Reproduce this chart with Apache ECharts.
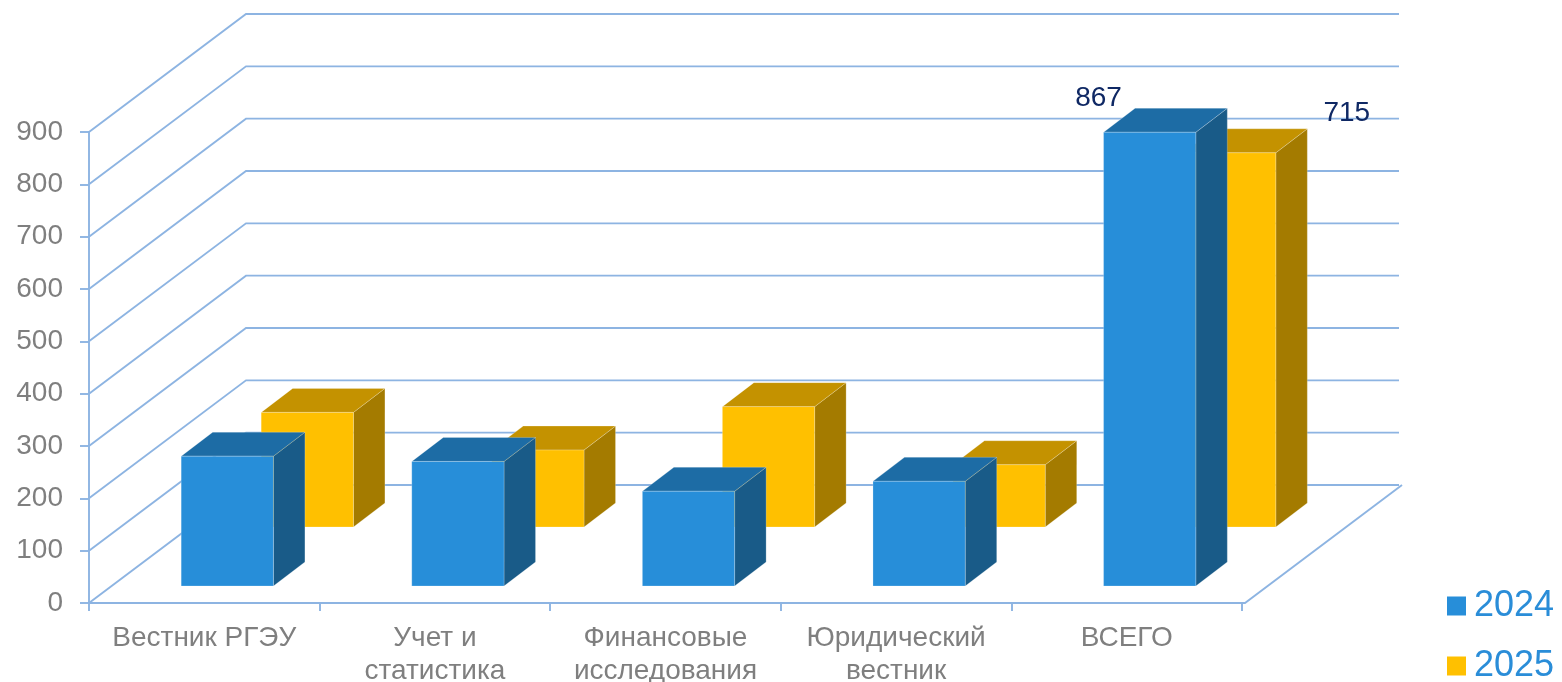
<!DOCTYPE html>
<html>
<head>
<meta charset="utf-8">
<script src="https://cdn.jsdelivr.net/npm/echarts@6/dist/echarts.min.js"></script>
<style>
  html, body { margin: 0; padding: 0; background: #ffffff; overflow: hidden; }
  #chart { width: 1562px; height: 682px; }
</style>
</head>
<body>
<div id="chart"></div>
<script>
// ---- data ----
const categories = ['Вестник РГЭУ', 'Учет и\nстатистика', 'Финансовые\nисследования', 'Юридический\nвестник', 'ВСЕГО'];
const values2024 = [248, 238, 181, 200, 867];
const values2025 = [219, 147, 230, 119, 715];
const seriesNames = ['2024', '2025'];
const yTicks = [0, 100, 200, 300, 400, 500, 600, 700, 800, 900];
const labelledCategories = ['ВСЕГО'];

// ---- styles ----
const GRID_LINE = '#8DB4E2';
const LINE_W = 1.9;
const WALL_DEPTH = [157, -118];      // oblique depth of the back wall
const BAR_DEPTH = [31.5, -24];       // thickness of each bar
const BAR_RATIO = 0.4;
const FONT = '"Liberation Sans", Arial, sans-serif';
const LABEL_COLOR = '#0F2864';
const LEGEND_TEXT = '#2A8DD8';

const styles2024 = { offset: [23, -17], front: '#278ED9', top: '#1D6CA5', side: '#195B88', labelOff: [-5, -34], labelFrom: 'left' };
const styles2025 = { offset: [103, -76], front: '#FFC000', top: '#C49200', side: '#A47B00', labelOff: [71, -40], labelFrom: 'right' };

function barRenderer(st) {
  return function (params, api) {
    const idx = api.value(0);
    const v = api.value(1);
    const top = api.coord([idx, v]);
    const base = api.coord([idx, 0]);
    const band = api.size([1, 0])[0];
    const w = band * BAR_RATIO;
    const x0 = top[0] - w / 2 + st.offset[0];
    const x1 = x0 + w;
    const yT = top[1] + st.offset[1];
    const yB = base[1] + st.offset[1];
    const dx = BAR_DEPTH[0], dy = BAR_DEPTH[1];
    const edge = 'rgba(255,255,255,0.22)';
    const children = [
      { type: 'polygon', shape: { points: [[x1, yT], [x1 + dx, yT + dy], [x1 + dx, yB + dy], [x1, yB]] },
        style: { fill: st.side, stroke: edge, lineWidth: 1 } },
      { type: 'polygon', shape: { points: [[x0, yT], [x1, yT], [x1 + dx, yT + dy], [x0 + dx, yT + dy]] },
        style: { fill: st.top, stroke: edge, lineWidth: 1 } },
      { type: 'rect', shape: { x: x0, y: yT, width: w, height: yB - yT },
        style: { fill: st.front, stroke: edge, lineWidth: 1 } }
    ];
    if (labelledCategories.indexOf(categories[idx]) >= 0) {
      const lx = (st.labelFrom === 'left' ? x0 : x1) + st.labelOff[0];
      children.push({
        type: 'text',
        style: { x: lx, y: yT + st.labelOff[1], text: String(v), fill: LABEL_COLOR,
                 font: '28px ' + FONT, align: 'center', verticalAlign: 'middle' }
      });
    }
    return { type: 'group', children: children };
  };
}

function wallRenderer(params, api) {
  const v = api.value(1);
  const cs = params.coordSys;
  const y = api.coord([0, v])[1];
  const L = cs.x, R = cs.x + cs.width;
  const dx = WALL_DEPTH[0], dy = WALL_DEPTH[1];
  const children = [{
    type: 'polyline',
    shape: { points: [[L, y], [L + dx, y + dy], [R + dx, y + dy]] },
    style: { stroke: GRID_LINE, lineWidth: LINE_W, fill: null }
  }];
  if (v === 0) {
    children.push({
      type: 'polyline',
      shape: { points: [[L, y], [R + 3, y], [R + 3 + dx, y + dy]] },
      style: { stroke: GRID_LINE, lineWidth: LINE_W, fill: null }
    });
  }
  return { type: 'group', children: children };
}

function legendFor(name, top) {
  return {
    data: [name],
    orient: 'vertical',
    left: 1447,
    top: top,
    padding: 0,
    icon: 'rect',
    itemWidth: 19,
    itemHeight: 19,
    textStyle: { fontSize: 36, lineHeight: 19, color: LEGEND_TEXT, fontFamily: FONT, padding: [0, 0, 0, 3] }
  };
}

const chart = echarts.init(document.getElementById('chart'), null, { renderer: 'canvas' });
chart.setOption({
  animation: false,
  backgroundColor: '#ffffff',
  grid: { left: 89, right: 320, top: 132, bottom: 79, containLabel: false, outerBoundsMode: 'none' },
  legend: [legendFor(seriesNames[0], 588), legendFor(seriesNames[1], 648)],
  xAxis: {
    type: 'category',
    data: categories,
    boundaryGap: true,
    axisLine: { show: true, lineStyle: { color: GRID_LINE, width: LINE_W } },
    axisTick: { show: true, length: 8, interval: 0, lineStyle: { color: GRID_LINE, width: LINE_W } },
    axisLabel: { interval: 0, fontSize: 28, lineHeight: 33, color: '#7F7F7F', fontFamily: FONT, margin: 19 },
    splitLine: { show: false }
  },
  yAxis: {
    type: 'value',
    min: 0, max: 900, interval: 100,
    axisLine: { show: true, lineStyle: { color: GRID_LINE, width: LINE_W } },
    axisTick: { show: true, length: 9, lineStyle: { color: GRID_LINE, width: LINE_W } },
    axisLabel: { fontSize: 28, color: '#7F7F7F', fontFamily: FONT, margin: 26 },
    splitLine: { show: false }
  },
  series: [
    {
      type: 'custom', name: 'walls', silent: true, z: 1,
      renderItem: wallRenderer,
      encode: { x: 0, y: 1 },
      data: yTicks.map(v => [0, v])
    },
    {
      type: 'custom', name: seriesNames[1], z: 2,
      itemStyle: { color: styles2025.front },
      renderItem: barRenderer(styles2025),
      encode: { x: 0, y: 1 },
      data: values2025.map((v, i) => [i, v])
    },
    {
      type: 'custom', name: seriesNames[0], z: 3,
      itemStyle: { color: styles2024.front },
      renderItem: barRenderer(styles2024),
      encode: { x: 0, y: 1 },
      data: values2024.map((v, i) => [i, v])
    }
  ]
});
</script>
</body>
</html>
